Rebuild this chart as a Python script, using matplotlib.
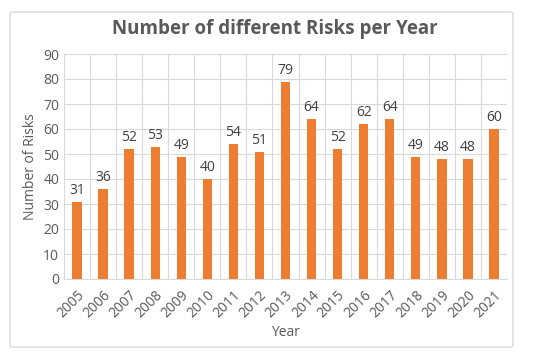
import matplotlib
matplotlib.use("Agg")
import matplotlib.pyplot as plt
from matplotlib.patches import FancyBboxPatch
import numpy as np

years = ["2005", "2006", "2007", "2008", "2009", "2010", "2011", "2012", "2013",
         "2014", "2015", "2016", "2017", "2018", "2019", "2020", "2021"]
risks = [31, 36, 52, 53, 49, 40, 54, 51, 79, 64, 52, 62, 64, 49, 48, 48, 60]

plt.rcParams['font.family'] = ['Open Sans', 'DejaVu Sans']
gray = '#595959'

fig = plt.figure(figsize=(5.5, 3.56), dpi=100)
fig.patch.set_facecolor('white')

# outer chart border
frame = FancyBboxPatch((10 / 550, 9 / 356), 503 / 550, 335 / 356,
                       boxstyle="round,pad=0,rounding_size=0.005",
                       transform=fig.transFigure, facecolor='none',
                       edgecolor='#d9d9d9', linewidth=1.0)
fig.patches.append(frame)

ax = fig.add_axes([64 / 550, 1 - 279 / 356, 443 / 550, 225 / 356])
x = np.arange(len(years))
bars = ax.bar(x, risks, width=0.36, color='#ED7D31', zorder=3)

for xi, v in zip(x, risks):
    ax.text(xi, v + 1.5, str(v), ha='center', va='bottom', fontsize=10, color='#404040')

ax.set_xlim(-0.5, len(years) - 0.5)
ax.set_ylim(0, 90)
ax.set_yticks(range(0, 91, 10))
ax.set_xticks(x)
ax.set_xticklabels(years, rotation=45, ha='right', rotation_mode='anchor')
ax.set_xticks(np.arange(-0.5, len(years), 1), minor=True)

ax.grid(axis='y', which='major', color='#d9d9d9', linewidth=0.8, zorder=0)
ax.grid(axis='x', which='minor', color='#d9d9d9', linewidth=0.8, zorder=0)
ax.tick_params(axis='both', which='both', length=0, labelsize=10, colors=gray)
ax.tick_params(axis='x', pad=6)
for s in ax.spines.values():
    s.set_visible(False)
ax.spines['bottom'].set_visible(True)
ax.spines['bottom'].set_color('#d9d9d9')

ax.set_xlabel("Year", fontsize=10, color=gray, labelpad=3)
ax.set_ylabel("Number of Risks", fontsize=10, color=gray, labelpad=4)
fig.text(0.5, 1 - 29 / 356, "Number of different Risks per Year", ha='center', va='center',
         fontsize=13.5, fontweight='bold', color=gray)

plt.savefig('out.png', dpi=100)
